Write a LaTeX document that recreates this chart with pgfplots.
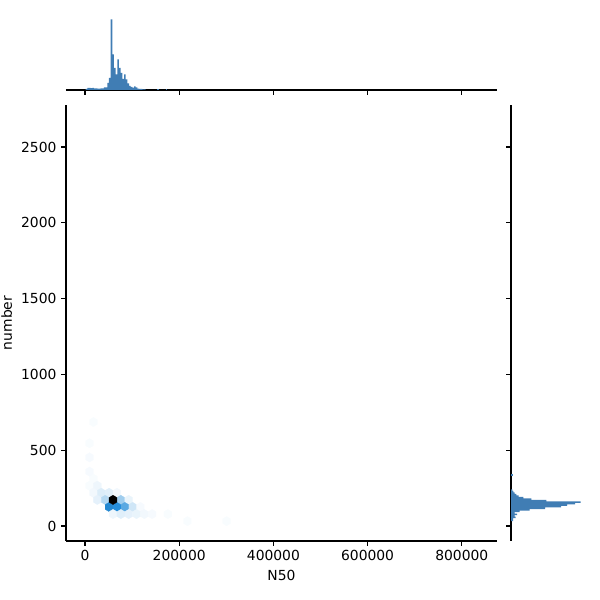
\documentclass[border=0pt]{standalone}
\usepackage{fontspec}
\setmainfont{DejaVu Sans}
\usepackage{pgfplots}
\pgfplotsset{compat=1.18}
\definecolor{barc}{RGB}{64,125,180}
\pgfdeclareplotmark{hexa}{%
  \pgfpathmoveto{\pgfqpoint{2.94pt}{-1.77pt}}%
  \pgfpathlineto{\pgfqpoint{2.94pt}{1.77pt}}%
  \pgfpathlineto{\pgfqpoint{0pt}{3.54pt}}%
  \pgfpathlineto{\pgfqpoint{-2.94pt}{1.77pt}}%
  \pgfpathlineto{\pgfqpoint{-2.94pt}{-1.77pt}}%
  \pgfpathlineto{\pgfqpoint{0pt}{-3.54pt}}%
  \pgfpathclose
  \pgfusepathqfillstroke}
\pgfplotsset{
  colormap={snshex}{rgb=(1,1,1) rgb=(.829,.911,.971) rgb=(.659,.823,.941) rgb=(.488,.734,.912) rgb=(.318,.645,.882) rgb=(.147,.557,.853) rgb=(.118,.445,.682) rgb=(.088,.334,.512) rgb=(.059,.223,.341) rgb=(.029,.111,.171) rgb=(0,0,0)},
  jstyle/.style={scale only axis, anchor=south west,
    axis line style={line width=0.83pt,-},
    tick style={line width=0.83pt, black},
    major tick length=3.65pt,
    /pgf/number format/assume math mode=true,
    tick label style={font=\fontsize{10.4}{12.5}\selectfont},
    label style={font=\fontsize{10.4}{12.5}\selectfont},
    scaled x ticks=false, scaled y ticks=false,
    xticklabel style={/pgf/number format/.cd, fixed, 1000 sep={}},
    yticklabel style={/pgf/number format/.cd, fixed, 1000 sep={}},
  }
}
\begin{document}
\begin{tikzpicture}
\path[use as bounding box] (0,0) rectangle (450pt,450pt);
% main hexbin axis
\begin{axis}[jstyle, at={(49.5pt,44.25pt)}, width=323.25pt, height=327pt,
  xmin=-40340, xmax=874700, ymin=-99, ymax=2777,
  axis x line*=bottom, axis y line*=left, tick align=outside,
  xtick={0,200000,400000,600000,800000}, ytick={0,500,1000,1500,2000,2500},
  xlabel={N50}, ylabel={number},
  colormap name=snshex, point meta min=0, point meta max=100]
\addplot[scatter, only marks, mark=hexa, mark options={line width=0.15pt},
  scatter/use mapped color={draw=mapped color, fill=mapped color},
  point meta=explicit] coordinates {
(17887,685.8) [1.5]
(9569,545.7) [1.5]
(9569,452.3) [2]
(9569,358.9) [2]
(17887,312.2) [1.5]
(9569,265.5) [1.5]
(26206,265.5) [4]
(17887,218.8) [3]
(34524,218.8) [8]
(51161,218.8) [7]
(67798,218.8) [3]
(26206,172.1) [6]
(42842,172.1) [17]
(76117,172.1) [22]
(92754,172.1) [5]
(101072,125.4) [11]
(117709,125.4) [2]
(84435,125.4) [38]
(51161,125.4) [52]
(67798,125.4) [50]
(59480,78.7) [4]
(76117,78.7) [7]
(92754,78.7) [6]
(109390,78.7) [5]
(126027,78.7) [3]
(142664,78.7) [2]
(175938,78.7) [1.5]
(217531,32) [1.5]
(300716,32) [1.5]
(59480,172.1) [100]
};
\end{axis}
% top marginal histogram
\begin{axis}[jstyle, at={(49.5pt,382.5pt)}, width=323.25pt, height=56.25pt,
  xmin=-40340, xmax=874700, ymin=0, ymax=75,
  axis x line*=bottom, axis y line=none, tick align=outside,
  xtick={0,200000,400000,600000,800000}, xticklabels={}, ytick=\empty]
\addplot[ybar interval, fill=barc, draw=none] coordinates {
(1250,1.0) (4796,2) (8342,2) (11888,1.8) (15434,2) (18980,1.7) (22526,1.5)
(26072,1.3) (29618,1.3) (33164,1.5) (36710,1.7) (40256,2.7) (43802,2.5)
(47348,7) (50894,12) (54440,70.7) (57986,35.7) (61532,22) (65078,15.7)
(68624,30.7) (72170,22) (75716,17) (79262,11) (82808,15.7) (86354,10.7)
(89900,6.7) (93446,4) (96992,3) (100538,2.3) (104084,3.7) (107630,2.5)
(111176,1.3) (114722,1.2) (118268,1.0) (121814,0.7) (125360,0.5) (128906,0)
};
\addplot[ybar interval, fill=barc, draw=none] coordinates {(153728,0.7) (157274,0)};
\addplot[ybar interval, fill=barc, draw=none] coordinates {(171458,0.7) (175004,0)};
\end{axis}
% right marginal histogram
\begin{axis}[jstyle, at={(383.25pt,44.25pt)}, width=55.5pt, height=327pt,
  xmin=0, xmax=74, ymin=-99, ymax=2777,
  axis y line*=left, axis x line=none, tick align=outside,
  ytick={0,500,1000,1500,2000,2500}, yticklabels={}, xtick=\empty]
\addplot[xbar interval, fill=barc, draw=none] coordinates {
(2,32) (2,42) (4.7,52) (3.7,62) (6,72) (3.7,82) (8.7,92) (18.7,102) (34,112)
(50,122) (56,132) (64,142) (69.7,152) (35.3,162) (20.3,172) (12.3,182)
(7.7,192) (5.3,202) (3.7,212) (2.3,222) (1.3,232) (0,242)
};
\addplot[xbar interval, fill=barc, draw=none] coordinates {(1.7,332) (0,342)};
\end{axis}
\end{tikzpicture}
\end{document}
